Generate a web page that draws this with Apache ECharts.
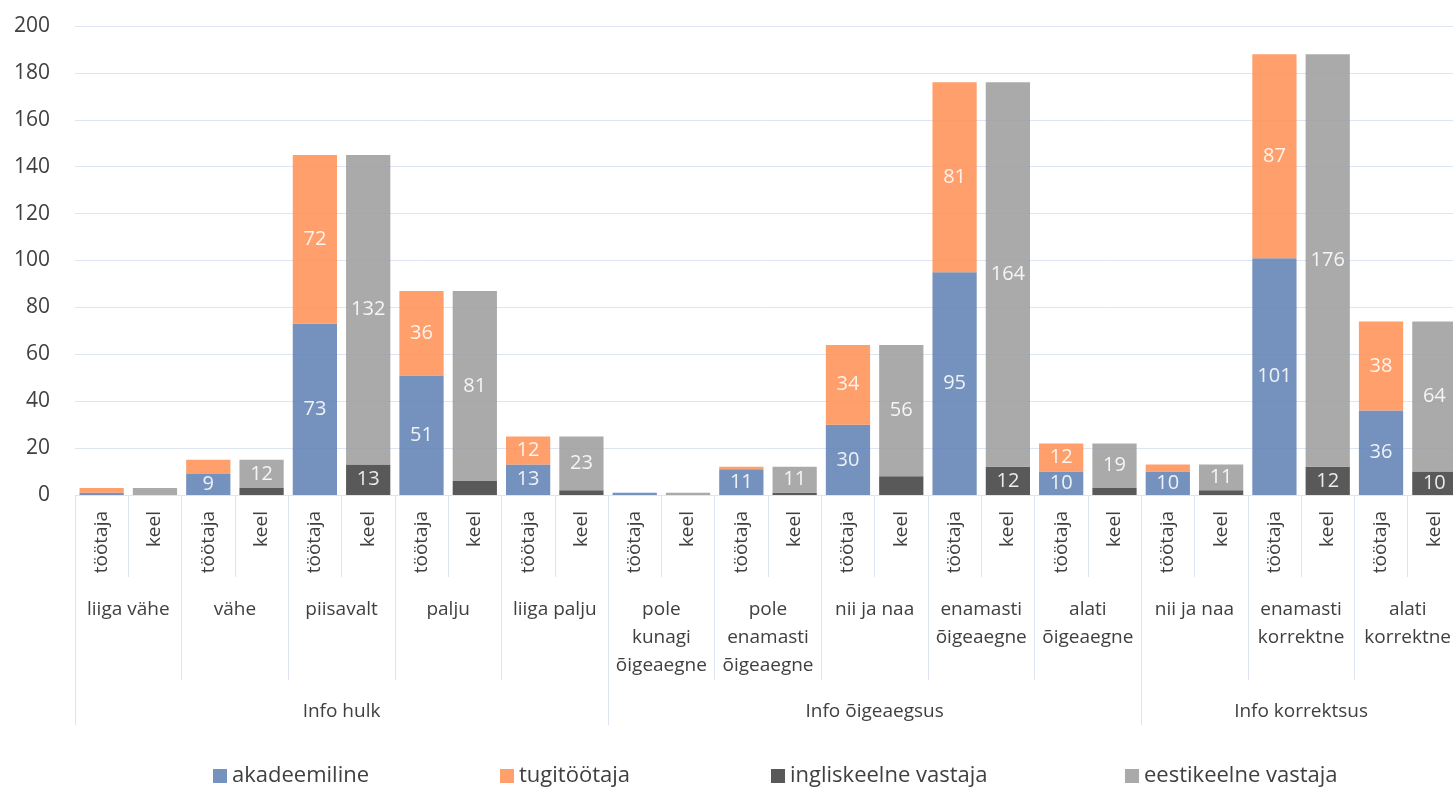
<!DOCTYPE html>
<html>
<head>
<meta charset="utf-8">
<script src="https://cdn.jsdelivr.net/npm/echarts@6/dist/echarts.min.js"></script>
<style>
  html, body { margin: 0; padding: 0; background: #fff; overflow: hidden; }
  #chart { width: 1453px; height: 787px; }
</style>
</head>
<body>
<div id="chart"></div>
<script>
// Survey answers, split by respondent role (töötaja) and by answer language (keel)
const groups = ['Info hulk', 'Info õigeaegsus', 'Info korrektsus'];
const groupSizes = [5, 5, 3];
const answers = [
  'liiga vähe', 'vähe', 'piisavalt', 'palju', 'liiga palju',
  'pole\nkunagi\nõigeaegne', 'pole\nenamasti\nõigeaegne', 'nii ja naa', 'enamasti\nõigeaegne', 'alati\nõigeaegne',
  'nii ja naa', 'enamasti\nkorrektne', 'alati\nkorrektne'
];
const splits = ['töötaja', 'keel'];
const seriesNames = ['akadeemiline', 'tugitöötaja', 'ingliskeelne vastaja', 'eestikeelne vastaja'];

// töötaja bars
const akadeemiline = [1, 9, 73, 51, 13, 1, 11, 30, 95, 10, 10, 101, 36];
const tugitootaja  = [2, 6, 72, 36, 12, 0, 1, 34, 81, 12, 3, 87, 38];
// keel bars
const ingliskeelne = [0, 3, 13, 6, 2, 0, 1, 8, 12, 3, 2, 12, 10];
const eestikeelne  = [3, 12, 132, 81, 23, 1, 11, 56, 164, 19, 11, 176, 64];

const yTicks = { min: 0, max: 200, step: 20 };

// Leaf categories: every answer gets a töötaja bar and a keel bar
const leafLabels = answers.flatMap(() => splits);
const onSlot = (values, slot) => values.flatMap(v => splits.map((s, i) => (i === slot ? v : 0)));

// Group axis: one slot per answer, the group name sits on the middle answer
const groupStarts = [];
const groupSlots = new Array(answers.length).fill('');
let start = 0;
groups.forEach((g, i) => {
  groupStarts.push(start);
  groupSlots[start + Math.floor(groupSizes[i] / 2)] = g;
  start += groupSizes[i];
});

const FONT = '"Open Sans", sans-serif';
const TEXT = '#404040';
const LINE = '#dde4f2';
const COLORS = ['#6282b4', '#fe9258', '#424242', '#9e9e9e'];

const labelStyle = {
  show: true,
  position: 'inside',
  color: '#fff',
  fontFamily: FONT,
  fontSize: 20,
  formatter: p => (p.value >= 9 ? String(p.value) : '')
};

function barSeries(name, color, values, slot) {
  return {
    name,
    type: 'bar',
    stack: 'total',
    xAxisIndex: 0,
    barCategoryGap: '17%',
    itemStyle: { color, opacity: 0.88 },
    label: labelStyle,
    emphasis: { disabled: true },
    data: onSlot(values, slot)
  };
}

// one legend block per series so each entry keeps its own spot on the row
const legendLefts = [213, 500, 771, 1125];
const legends = seriesNames.map((name, i) => ({
  left: legendLefts[i],
  top: 765,
  padding: 0,
  itemWidth: 14,
  itemHeight: 14,
  itemGap: 0,
  icon: 'rect',
  textStyle: { fontFamily: FONT, fontSize: 22, color: TEXT },
  data: [name]
}));

const chart = echarts.init(document.getElementById('chart'), null, { renderer: 'canvas' });
chart.setOption({
  animation: false,
  backgroundColor: '#fff',
  // the plot runs a little past the right edge of the page
  grid: { left: 75, width: 1386, top: 26, height: 469, containLabel: false, outerBoundsMode: 'none' },
  legend: legends,
  xAxis: [
    {
      type: 'category',
      data: leafLabels,
      position: 'bottom',
      axisLine: { show: true, lineStyle: { color: LINE, width: 1 } },
      axisTick: { show: true, interval: 0, length: 82, lineStyle: { color: LINE } },
      axisLabel: { interval: 0, rotate: 90, margin: 16, fontFamily: FONT, fontSize: 19, color: TEXT },
      splitLine: { show: false }
    },
    {
      type: 'category',
      data: answers,
      position: 'bottom',
      axisLine: { show: false },
      axisTick: { show: true, interval: 0, length: 185, lineStyle: { color: LINE } },
      axisLabel: { interval: 0, margin: 101, lineHeight: 28, fontFamily: FONT, fontSize: 19, color: TEXT },
      splitLine: { show: false }
    },
    {
      type: 'category',
      data: groupSlots,
      position: 'bottom',
      axisLine: { show: false },
      axisTick: { show: true, interval: i => groupStarts.includes(i), length: 230, lineStyle: { color: LINE } },
      axisLabel: { interval: 0, margin: 203, lineHeight: 28, fontFamily: FONT, fontSize: 19, color: TEXT },
      splitLine: { show: false }
    }
  ],
  yAxis: {
    type: 'value',
    min: yTicks.min,
    max: yTicks.max,
    interval: yTicks.step,
    axisLine: { show: false },
    axisTick: { show: false },
    axisLabel: { margin: 25, fontFamily: FONT, fontSize: 21, color: TEXT },
    splitLine: { lineStyle: { color: LINE, width: 1 } }
  },
  series: [
    barSeries(seriesNames[0], COLORS[0], akadeemiline, 0),
    barSeries(seriesNames[1], COLORS[1], tugitootaja, 0),
    barSeries(seriesNames[2], COLORS[2], ingliskeelne, 1),
    barSeries(seriesNames[3], COLORS[3], eestikeelne, 1)
  ]
});
</script>
</body>
</html>
